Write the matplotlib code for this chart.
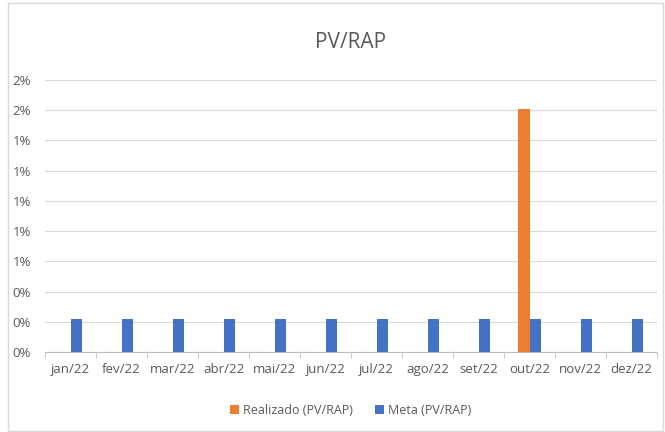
import numpy as np
import matplotlib.pyplot as plt
from matplotlib.patches import Rectangle

plt.rcParams['font.family'] = ['Open Sans', 'DejaVu Sans']

# data
meses = ['jan/22', 'fev/22', 'mar/22', 'abr/22', 'mai/22', 'jun/22',
         'jul/22', 'ago/22', 'set/22', 'out/22', 'nov/22', 'dez/22']
realizado = [0, 0, 0, 0, 0, 0, 0, 0, 0, 0.0161, 0, 0]
meta = [0.0022] * 12
yticks = [0, 0.002, 0.004, 0.006, 0.008, 0.010, 0.012, 0.014, 0.016, 0.018]
ylabels = ['0%', '0%', '0%', '1%', '1%', '1%', '1%', '1%', '2%', '2%']

fig = plt.figure(figsize=(6.65, 4.32), dpi=100)
ax = fig.add_axes([45/665, 1-352/432, 612/665, 272/432])

x = np.arange(len(meses))
w = 0.235
ax.bar(x - w/2, realizado, width=w, color='#ED7D31', label='Realizado (PV/RAP)', zorder=3)
ax.bar(x + w/2, meta, width=w, color='#4472C4', label='Meta (PV/RAP)', zorder=3)

ax.set_xlim(-0.5, len(meses) - 0.5)
ax.set_ylim(0, 0.018)
ax.set_yticks(yticks)
ax.set_yticklabels(ylabels)
ax.set_xticks(x)
ax.set_xticklabels(meses)
ax.set_xticks(np.arange(-0.5, len(meses)), minor=True)
ax.tick_params(axis='x', which='major', length=0, pad=8, labelsize=9.5, colors='#595959')
ax.tick_params(axis='x', which='minor', length=4, color='#BFBFBF')
ax.tick_params(axis='y', length=0, pad=10, labelsize=9.5, colors='#595959')
ax.grid(axis='y', color='#D9D9D9', linewidth=0.8, zorder=0)
for s in ['top', 'right', 'left']:
    ax.spines[s].set_visible(False)
ax.spines['bottom'].set_color('#BFBFBF')

fig.text(0.527, 1-42/432, 'PV/RAP', ha='center', va='center', fontsize=15, color='#595959')
fig.legend(loc='center', bbox_to_anchor=(0.527, 1-410/432), ncol=2, frameon=False,
           fontsize=9, handlelength=0.7, handleheight=0.7, handletextpad=0.3,
           columnspacing=1.8, labelcolor='#595959')

fig.patches.append(Rectangle((8/665, 0.003), 655/665, 0.99, transform=fig.transFigure,
                             fill=False, edgecolor='#D9D9D9', linewidth=1))

fig.savefig('out.png', dpi=100)
